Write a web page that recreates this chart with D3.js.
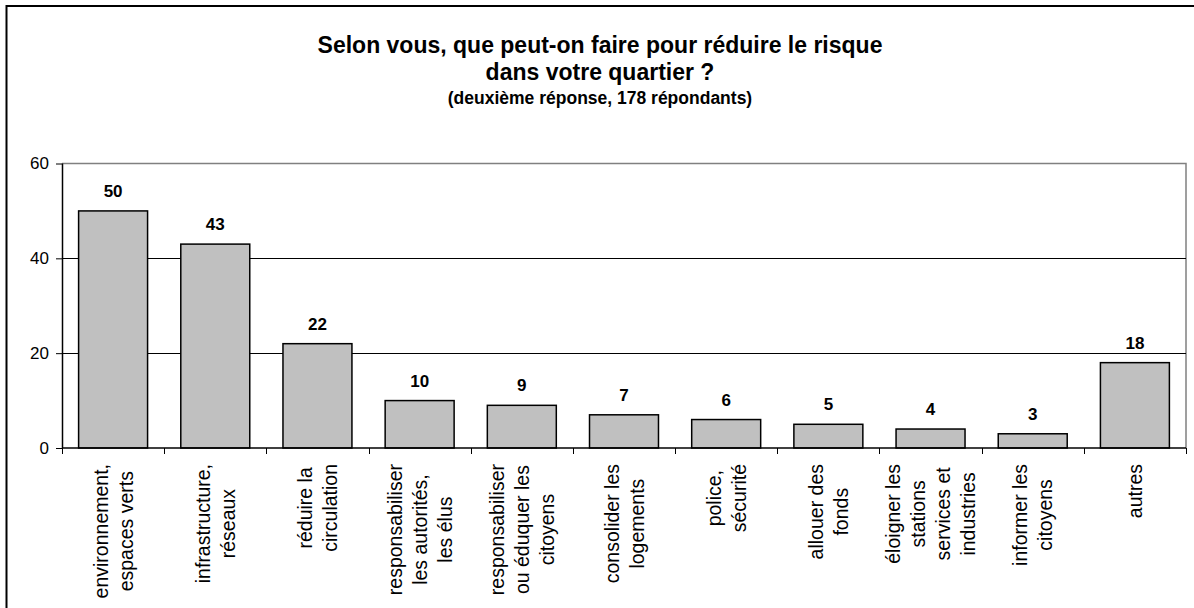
<!DOCTYPE html>
<html>
<head>
<meta charset="utf-8">
<script src="https://cdn.jsdelivr.net/npm/d3@7"></script>
<style>
  html, body { margin: 0; padding: 0; background: #fff; }
  svg { display: block; }
  text { font-family: "Liberation Sans", Arial, sans-serif; fill: #000; }
</style>
</head>
<body>
<svg id="chart" width="1194" height="608"></svg>
<script>
// Réponses (deuxième réponse, 178 répondants)
const categories = [
  ["environnement,", "espaces verts"],
  ["infrastructure,", "réseaux"],
  ["réduire la", "circulation"],
  ["responsabiliser", "les autorités,", "les élus"],
  ["responsabiliser", "ou éduquer les", "citoyens"],
  ["consolider les", "logements"],
  ["police,", "sécurité"],
  ["allouer des", "fonds"],
  ["éloigner les", "stations", "services et", "industries"],
  ["informer les", "citoyens"],
  ["autres"]
];
const values = [50, 43, 22, 10, 9, 7, 6, 5, 4, 3, 18];
const yTicks = [0, 20, 40, 60];
const titleLines = ["Selon vous, que peut-on faire pour réduire le risque", "dans votre quartier ?"];
const subtitle = "(deuxième réponse, 178 répondants)";

const svg = d3.select("#chart");
const W = 1194, H = 608;
const plot = { left: 62, right: 1186, top: 163.5, bottom: 448 };

// Outer chart frame (runs off the right and bottom edges)
svg.append("rect")
  .attr("x", 6.5).attr("y", 6)
  .attr("width", W + 20).attr("height", H + 20)
  .attr("fill", "#fff").attr("stroke", "#000").attr("stroke-width", 2);

// Title
const cx = 600;
svg.append("text").attr("x", cx).attr("y", 53)
  .attr("text-anchor", "middle").attr("font-weight", "bold").attr("font-size", 23)
  .text(titleLines[0]);
svg.append("text").attr("x", cx).attr("y", 80)
  .attr("text-anchor", "middle").attr("font-weight", "bold").attr("font-size", 23)
  .text(titleLines[1]);
svg.append("text").attr("x", cx).attr("y", 104)
  .attr("text-anchor", "middle").attr("font-weight", "bold").attr("font-size", 17.5)
  .text(subtitle);

// Scales
const keys = categories.map((c, i) => i);
const x = d3.scaleBand().domain(keys)
  .range([plot.left, plot.right])
  .paddingInner(0.325).paddingOuter(0.1625);
const y = d3.scaleLinear().domain([0, 60]).range([plot.bottom, plot.top]);

// Plot area border (top and right, grey)
svg.append("path")
  .attr("d", `M${plot.left},${plot.top}H${plot.right}V${plot.bottom}`)
  .attr("fill", "none").attr("stroke", "#808080").attr("stroke-width", 1.5);

// Horizontal gridlines
svg.append("g").selectAll("line")
  .data(yTicks.filter(t => t > 0 && t < 60))
  .join("line")
  .attr("x1", plot.left).attr("x2", plot.right)
  .attr("y1", d => Math.round(y(d)) + 0.5).attr("y2", d => Math.round(y(d)) + 0.5)
  .attr("stroke", "#000").attr("stroke-width", 1);

// Bars
svg.append("g").selectAll("rect")
  .data(values)
  .join("rect")
  .attr("x", (d, i) => x(i))
  .attr("y", d => y(d))
  .attr("width", x.bandwidth())
  .attr("height", d => y(0) - y(d))
  .attr("fill", "#c0c0c0")
  .attr("stroke", "#000").attr("stroke-width", 1.5);

// Value labels
svg.append("g").selectAll("text")
  .data(values)
  .join("text")
  .attr("x", (d, i) => x(i) + x.bandwidth() / 2)
  .attr("y", d => y(d) - 14)
  .attr("text-anchor", "middle")
  .attr("font-weight", "bold").attr("font-size", 17)
  .text(d => d);

// Y axis
const yAxis = svg.append("g")
  .attr("transform", `translate(${plot.left},0)`)
  .call(d3.axisLeft(y).tickValues(yTicks).tickSize(6).tickPadding(7).tickFormat(d3.format("d")));
yAxis.select(".domain").attr("stroke", "#000").attr("stroke-width", 1.5)
  .attr("d", `M0.5,${plot.top}V${plot.bottom}`);
yAxis.selectAll(".tick line").attr("stroke", "#000");
yAxis.selectAll(".tick text")
  .attr("font-family", "Liberation Sans, Arial, sans-serif")
  .attr("font-size", 17).attr("fill", "#000");

// X axis line with ticks at category boundaries
const step = x.step();
const bounds = d3.range(categories.length + 1).map(i => plot.left + i * step);
svg.append("line")
  .attr("x1", plot.left).attr("x2", plot.right)
  .attr("y1", plot.bottom).attr("y2", plot.bottom)
  .attr("stroke", "#000").attr("stroke-width", 1.5);
svg.append("g").selectAll("line")
  .data(bounds)
  .join("line")
  .attr("x1", d => Math.round(d) + 0.5).attr("x2", d => Math.round(d) + 0.5)
  .attr("y1", plot.bottom).attr("y2", plot.bottom + 6)
  .attr("stroke", "#000").attr("stroke-width", 1);

// Category labels, rotated, lines centred, block hung from the axis
const labelFont = 19.5, lineH = 25, labelTop = 464;
const lab = svg.append("g").selectAll("g")
  .data(categories)
  .join("g");
lab.each(function(lines, i) {
  const g = d3.select(this);
  const t = g.append("text")
    .attr("font-size", labelFont)
    .attr("text-anchor", "middle");
  const n = lines.length;
  lines.forEach((s, k) => {
    t.append("tspan")
      .attr("x", 0)
      .attr("y", (k - (n - 1) / 2) * lineH + labelFont * 0.36)
      .text(s);
  });
  let maxW = 0;
  t.selectAll("tspan").each(function() { maxW = Math.max(maxW, this.getComputedTextLength()); });
  const c = x(i) + x.bandwidth() / 2;
  g.attr("transform", `translate(${c},${labelTop + maxW / 2}) rotate(-90)`);
});
</script>
</body>
</html>
